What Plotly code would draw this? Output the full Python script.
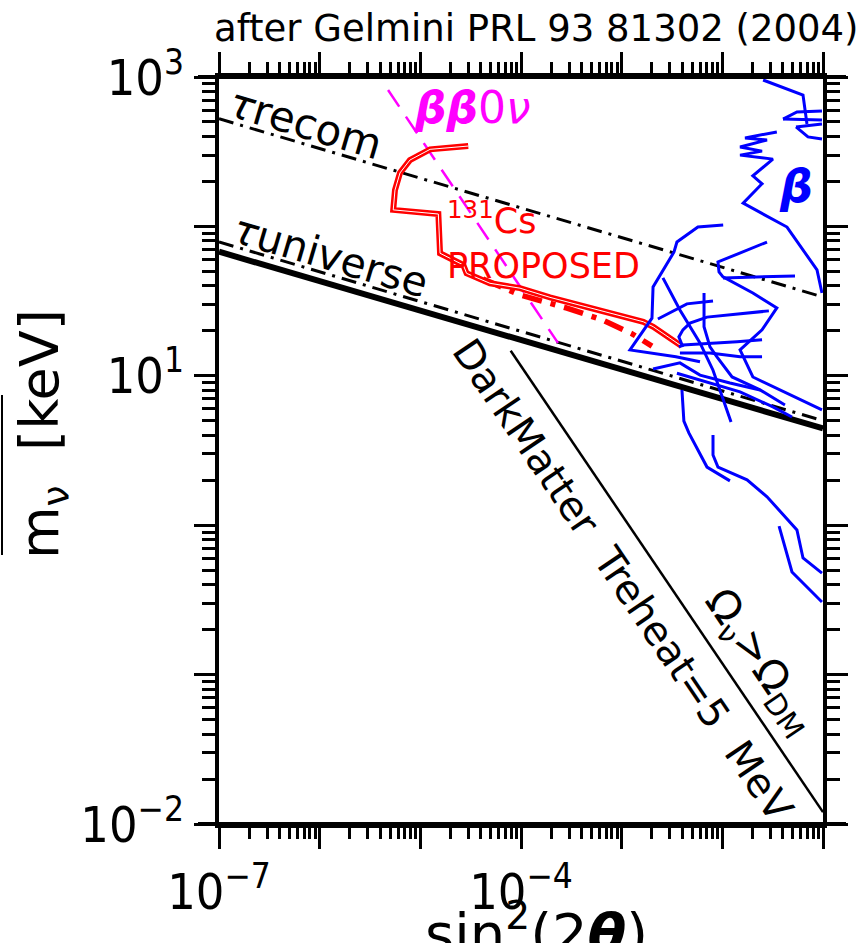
import plotly.graph_objects as go

# ---------------- data ----------------
# cosmological bounds, m ∝ (sin^2 2θ)^-0.2, given at both plot edges
band_x = [1e-7, 1e-1]
tau_universe_solid = [67.7, 4.45]
tau_universe_dashdot = [78.7, 5.0]
tau_recom = [525.0, 33.7]

# Ω_ν > Ω_DM for T_reheat = 5 MeV
omega_x = [7.9e-5, 1e-1]
omega_y = [14.7, 0.012]

# neutrinoless double beta decay bound
bb0v_x = [4.78e-6, 2.33e-4]
bb0v_y = [818.0, 16.6]

# 131Cs proposed sensitivity
cs_x = [2.99e-5, 1.25e-5, 7.88e-6, 6.28e-6, 5.6e-6, 5.38e-6, 1.51e-5, 1.57e-5,
        2.67e-5, 2.88e-5, 4.92e-5, 9.77e-5, 1.94e-4, 1.64e-3, 2.06e-3, 3.94e-3]
cs_y = [345, 328, 278, 228, 175, 129, 121, 66.1,
        55.2, 48.5, 41.6, 38.6, 33.5, 23.0, 21.3, 15.8]
cs_alt_x = [4.19e-5, 9.77e-5, 2.86e-4, 6.52e-4, 1.27e-3, 2.0e-3]
cs_alt_y = [44.5, 34.8, 28.4, 23.6, 19.1, 15.8]

# beta-decay (kink search) exclusion contours
beta_curves = [
    ([2.54e-2, 6.33e-2, 6.93e-2], [955, 757, 485]),
    ([4.01e-2, 5.51e-2, 9.77e-2], [523, 583, 592]),
    ([4.01e-2, 9.77e-2], [523, 515]),
    ([5.39e-2, 7.09e-2, 9.77e-2], [463, 397, 385]),
    ([5.39e-2, 9.77e-2], [463, 484]),
    ([3.48e-2, 1.68e-2, 2.78e-2, 1.50e-2, 2.48e-2, 1.50e-2, 3.18e-2, 2.01e-2,
      2.48e-2, 1.61e-2, 4.39e-2, 8.72e-2, 9.77e-2],
     [429, 391, 379, 340, 319, 300, 282, 218, 193, 143, 99.0, 51.1, 35.8]),
    ([1.02e-2, 5.72e-3, 3.54e-3, 3.31e-3, 2.05e-3, 2.0e-3, 1.21e-3, 3.46e-3, 6.0e-3],
     [102, 99.0, 78.6, 67.4, 39.3, 24.3, 14.9, 13.4, 12.4]),
    ([8.08e-3, 4.45e-3, 2.29e-3], [31.7, 30.3, 24.0]),
    ([2.57e-3, 3.79e-3, 6.0e-3, 8.08e-3, 1.22e-2], [45.2, 27.6, 16.6, 10.9, 4.91]),
    ([2.78e-2, 9.05e-3, 9.27e-3, 1.015e-2, 2.01e-2, 3.48e-2, 2.48e-2, 1.50e-2,
      2.01e-2, 9.77e-2],
     [78.6, 57.8, 49.6, 45.9, 35.8, 28.5, 20.3, 14.9, 9.82, 5.91]),
    ([5.27e-2, 1.015e-2], [46.6, 45.2]),
    ([2.90e-2, 7.04e-3, 4.77e-3, 4.06e-3, 3.70e-3, 4.06e-3],
     [27.2, 24.7, 22.5, 20.3, 18.2, 15.6]),
    ([2.48e-2, 1.40e-2, 4.06e-3, 3.70e-3], [17.4, 16.9, 16.1, 15.6]),
    ([2.48e-2, 1.50e-2, 7.54e-3, 3.79e-3], [13.4, 13.4, 14.2, 14.2]),
    ([6.58e-3, 6.58e-3, 7.54e-3, 8.84e-3, 1.25e-2, 2.37e-2, 4.19e-2],
     [35.8, 21.3, 15.6, 13.4, 9.82, 8.04, 6.38]),
    ([2.05e-3, 3.79e-3, 6.0e-3, 1.19e-2, 2.37e-2], [11.1, 12.2, 10.1, 8.96, 8.04]),
    ([3.54e-3, 7.54e-3, 1.50e-2, 3.18e-2, 4.92e-2], [10.4, 8.96, 7.80, 6.19, 5.30]),
    ([3.97e-3, 4.15e-3, 4.65e-3, 7.04e-3, 1.19e-2], [8.04, 4.98, 4.15, 2.45, 1.98]),
    ([8.08e-3, 8.08e-3, 9.05e-3, 1.76e-2, 2.78e-2, 5.51e-2, 6.33e-2, 9.77e-2],
     [4.02, 2.95, 2.45, 2.01, 1.55, 0.929, 0.603, 0.478]),
    ([3.66e-2, 4.92e-2, 9.77e-2], [0.985, 0.486, 0.306]),
]

# axis decades and labels
x_decades = list(range(-7, 0))
y_decades = list(range(-2, 4))
x_label_decades = [-7, -4, -1]
x_label_text = ["10<sup>−7</sup>", "10<sup>−4</sup>", "10<sup>−1</sup>"]
y_label_decades = [-2, 1, 3]
y_label_text = ["10<sup>−2</sup>", "10<sup>1</sup>", "10<sup>3</sup>"]

# ---------------- layout geometry (pixels) ----------------
W, H = 867, 943
L, R, T, B = 219, 823, 77, 824


def px(x):
    return (x - L) / (R - L)


def py(y):
    return (B - y) / (B - T)


fig = go.Figure()


def line(x, y, color, width, dash="solid"):
    fig.add_trace(go.Scatter(x=x, y=y, mode="lines",
                             line=dict(color=color, width=width, dash=dash),
                             hoverinfo="skip"))


line(band_x, tau_universe_solid, "black", 6)
line(band_x, tau_universe_dashdot, "black", 3, "15px,7px,3px,7px")
line(band_x, tau_recom, "black", 3, "15px,7px,3px,7px")
line(omega_x, omega_y, "black", 2.5)
line(bb0v_x, bb0v_y, "#ff00ff", 2.5, "20px,12px")
line(cs_alt_x, cs_alt_y, "#ff0000", 5.5, "20px,9px,5px,9px")
line(cs_x, cs_y, "#ff0000", 6)
line(cs_x, cs_y, "white", 1)
for bx, by in beta_curves:
    line(bx, by, "#0000ff", 3)

# an empty trace so the secondary (tick-only) axes are laid out
fig.add_trace(go.Scatter(x=[], y=[], xaxis="x2", yaxis="y2", showlegend=False))

tick_font = dict(family="Liberation Sans Narrow, DejaVu Sans Condensed, Roboto, sans-serif",
                 size=50, color="black")
tick_style = dict(type="log", showline=True, linewidth=4, linecolor="black",
                  mirror="allticks", ticks="outside", ticklen=21, tickwidth=3,
                  tickcolor="black", showgrid=False, zeroline=False)

minor_x = [m * 10.0 ** k for k in x_decades[:-1] for m in range(2, 10)]
minor_y = [m * 10.0 ** k for k in y_decades[:-1] for m in range(2, 10)]

fig.update_layout(
    xaxis=dict(range=[-7, -1], tickmode="array",
               tickvals=[10.0 ** k for k in x_label_decades], ticktext=x_label_text,
               tickfont=tick_font,
               minor=dict(tickmode="array", tickvals=minor_x, ticks="outside",
                          ticklen=11, tickwidth=3, tickcolor="black", showgrid=False),
               **tick_style),
    yaxis=dict(range=[-2, 3], tickmode="array",
               tickvals=[10.0 ** k for k in y_label_decades], ticktext=y_label_text,
               tickfont=tick_font,
               minor=dict(tickmode="array", tickvals=minor_y, ticks="outside",
                          ticklen=13, tickwidth=3, tickcolor="black", showgrid=False),
               **tick_style),
    # every decade gets a long tick
    xaxis2=dict(range=[-7, -1], overlaying="x", anchor="y", side="bottom",
                tickmode="array", tickvals=[10.0 ** k for k in x_decades],
                showticklabels=False, **tick_style),
    yaxis2=dict(range=[-2, 3], overlaying="y", anchor="x", side="left",
                tickmode="array", tickvals=[10.0 ** k for k in y_decades],
                showticklabels=False, **tick_style),
)

txt = "DejaVu Sans"
annotations = [
    # header
    dict(text="after Gelmini PRL 93 81302 (2004)", x=px(536), y=py(28),
         font=dict(family=txt, size=37, color="black")),
    # axis titles
    dict(text="sin<sup>2</sup>(2<b><i>θ</i></b>)", x=px(536), y=py(929),
         font=dict(family=txt, size=56, color="black")),
    dict(text="m<sub>ν</sub>  [keV]", x=px(43), y=py(434), textangle=-90,
         font=dict(family=txt, size=54, color="black")),
    # curve labels
    dict(text="<i>τ</i>recom", x=px(305), y=py(123), textangle=16.4,
         font=dict(family=txt, size=42, color="black")),
    dict(text="<i>τ</i>universe", x=px(330), y=py(256), textangle=16.4,
         font=dict(family=txt, size=41, color="black")),
    dict(text="<b><i>ββ</i></b>0<i>ν</i>", x=px(472), y=py(107),
         font=dict(family=txt, size=44, color="#ff00ff")),
    dict(text="<b><i>β</i></b>", x=px(796), y=py(186),
         font=dict(family=txt, size=46, color="#0000ff")),
    dict(text="<sup>131</sup>Cs<br>PROPOSED", x=px(445), y=py(240), xanchor="left",
         align="left", font=dict(family=txt, size=35, color="#ff0000")),
    dict(text="DarkMatter  Treheat=5  MeV", x=px(623), y=py(580), textangle=55.9,
         font=dict(family=txt, size=40, color="black")),
    dict(text="Ω<sub>ν</sub>>Ω<sub>DM</sub>", x=px(760), y=py(662), textangle=55.9,
         font=dict(family=txt, size=42, color="black")),
]
for a in annotations:
    a.setdefault("xanchor", "center")
    a.setdefault("yanchor", "middle")
    a.update(xref="paper", yref="paper", showarrow=False)

shapes = [
    # horizontal frame lines run past the corners
    dict(type="line", xref="paper", yref="paper", x0=px(198), x1=px(846), y0=0, y1=0,
         line=dict(color="black", width=4)),
    dict(type="line", xref="paper", yref="paper", x0=px(198), x1=px(846), y0=1, y1=1,
         line=dict(color="black", width=4)),
    # bar over the mass symbol
    dict(type="line", xref="paper", yref="paper", x0=px(2), x1=px(2), y0=py(395), y1=py(555),
         line=dict(color="black", width=2)),
]

fig.update_layout(width=W, height=H,
                  margin=dict(l=L, r=W - R, t=T, b=H - B, autoexpand=False),
                  paper_bgcolor="white", plot_bgcolor="white", showlegend=False,
                  annotations=annotations, shapes=shapes)

fig.write_html("out.html")
